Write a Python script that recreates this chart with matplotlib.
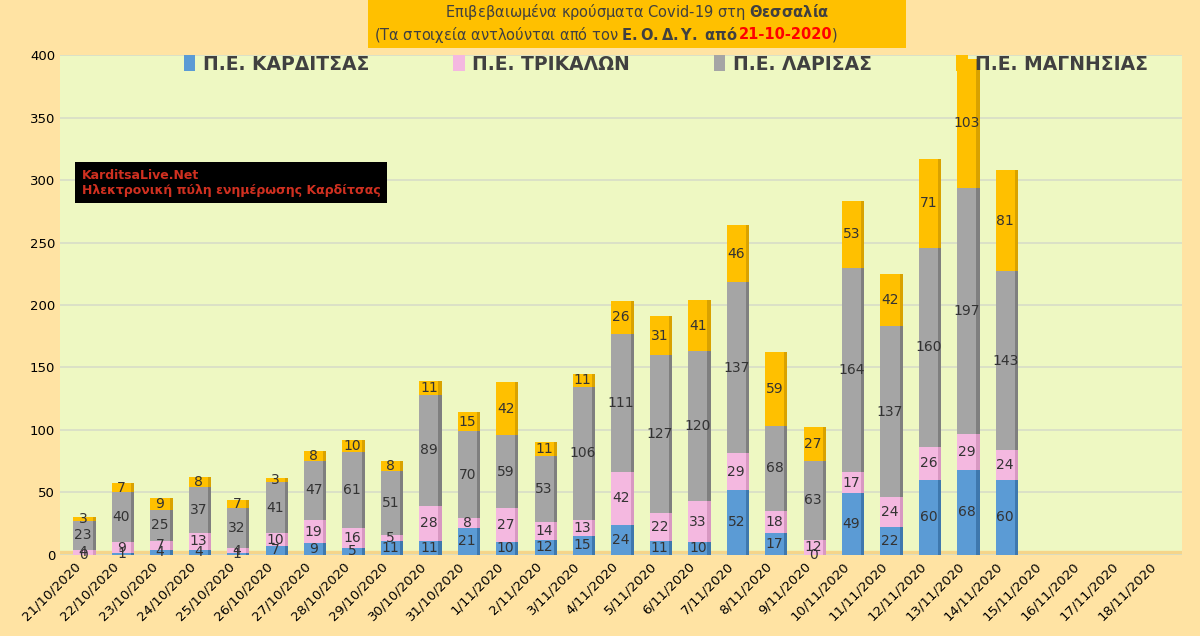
import matplotlib
matplotlib.use("Agg")
import matplotlib.pyplot as plt
import numpy as np

dates = ["21/10/2020", "22/10/2020", "23/10/2020", "24/10/2020", "25/10/2020", "26/10/2020",
         "27/10/2020", "28/10/2020", "29/10/2020", "30/10/2020", "31/10/2020", "1/11/2020",
         "2/11/2020", "3/11/2020", "4/11/2020", "5/11/2020", "6/11/2020", "7/11/2020",
         "8/11/2020", "9/11/2020", "10/11/2020", "11/11/2020", "12/11/2020", "13/11/2020",
         "14/11/2020", "15/11/2020", "16/11/2020", "17/11/2020", "18/11/2020"]
karditsa = [0, 1, 4, 4, 1, 7, 9, 5, 11, 11, 21, 10, 12, 15, 24, 11, 10, 52, 17, 0, 49, 22, 60, 68, 60]
trikala = [4, 9, 7, 13, 4, 10, 19, 16, 5, 28, 8, 27, 14, 13, 42, 22, 33, 29, 18, 12, 17, 24, 26, 29, 24]
larisa = [23, 40, 25, 37, 32, 41, 47, 61, 51, 89, 70, 59, 53, 106, 111, 127, 120, 137, 68, 63, 164, 137, 160, 197, 143]
magnisia = [3, 7, 9, 8, 7, 3, 8, 10, 8, 11, 15, 42, 11, 11, 26, 31, 41, 46, 59, 27, 53, 42, 71, 103, 81]
names = ["Π.Ε. ΚΑΡΔΙΤΣΑΣ", "Π.Ε. ΤΡΙΚΑΛΩΝ", "Π.Ε. ΛΑΡΙΣΑΣ", "Π.Ε. ΜΑΓΝΗΣΙΑΣ"]
colors = ["#5B9BD5", "#F4B8E0", "#A5A5A5", "#FFC000"]
sides = ["#3E78AE", "#D898C2", "#7F7F7F", "#D9A200"]

plt.rcParams["font.family"] = ["DejaVu Sans"]
fig = plt.figure(figsize=(12, 6.36), dpi=100)
fig.patch.set_facecolor("#FFE3A3")
ax = fig.add_axes([0.05, 0.128, 0.935, 0.785])
ax.set_facecolor("#EEF8C2")

n = len(karditsa)
x = np.arange(n)
w = 0.5
bottom = np.zeros(n)
for vals, c, sc, name in zip([karditsa, trikala, larisa, magnisia], colors, sides, names):
    v = np.array(vals, dtype=float)
    ax.bar(x + w / 2 + 0.04, v, 0.08, bottom=bottom, color=sc, zorder=2)
    ax.bar(x, v, w, bottom=bottom, color=c, label=name, zorder=3)
    for xi, vi, bi in zip(x, v, bottom):
        ax.text(xi, bi + vi / 2, f"{int(vi)}", ha="center", va="center",
                fontsize=10, color="#333333", zorder=4)
    bottom += v

ax.set_xlim(-0.6, len(dates) - 0.4)
ax.set_ylim(0, 400)
ax.set_yticks(range(0, 401, 50))
ax.set_xticks(range(len(dates)))
ax.set_xticklabels(dates, rotation=45, ha="right", fontsize=9.5)
ax.tick_params(axis="y", labelsize=9.5, length=0)
ax.tick_params(axis="x", length=0)
ax.grid(axis="y", color="#D8DDC8", lw=1.2, zorder=0)
for s in ax.spines.values():
    s.set_visible(False)
ax.axhline(0, color="#F5D58A", lw=6, zorder=1)

ax.legend(loc="upper center", bbox_to_anchor=(0.54, 1.035), ncol=4, frameon=False,
          handlelength=0.6, handleheight=0.9, handletextpad=0.4, columnspacing=4.5,
          prop={"weight": "bold", "size": 13.5})
for t in ax.get_legend().get_texts():
    t.set_color("#404040")

# title box
fig.patches.append(matplotlib.patches.Rectangle((0.307, 0.925), 0.448, 0.075,
                   transform=fig.transFigure, fc="#FFC000", ec="none", zorder=0))
fig.text(0.531, 0.981, "Επιβεβαιωμένα κρούσματα Covid-19 στη $\\bf{Θεσσαλία}$",
         ha="center", va="center", fontsize=10.5, color="#404040")
t1 = fig.text(0.312, 0.945, "(Τα στοιχεία αντλούνται από τον $\\bf{Ε.Ο.Δ.Υ.\\ από}$ ",
              ha="left", va="center", fontsize=10.5, color="#404040")
fig.canvas.draw()
bb = t1.get_window_extent()
x2 = bb.x1 / fig.bbox.width
t2 = fig.text(x2, 0.945, "21-10-2020", ha="left", va="center", fontsize=10.5,
              color="red", fontweight="bold")
fig.canvas.draw()
x3 = t2.get_window_extent().x1 / fig.bbox.width
fig.text(x3, 0.945, ")", ha="left", va="center", fontsize=10.5, color="#404040")

fig.text(0.068, 0.713, "KarditsaLive.Net\nΗλεκτρονική πύλη ενημέρωσης Καρδίτσας",
         color="#D03020", fontsize=9, fontweight="bold", va="center", ha="left",
         bbox=dict(boxstyle="square,pad=0.5", fc="black", ec="none"))

fig.savefig("out.png", dpi=100, facecolor=fig.get_facecolor())
